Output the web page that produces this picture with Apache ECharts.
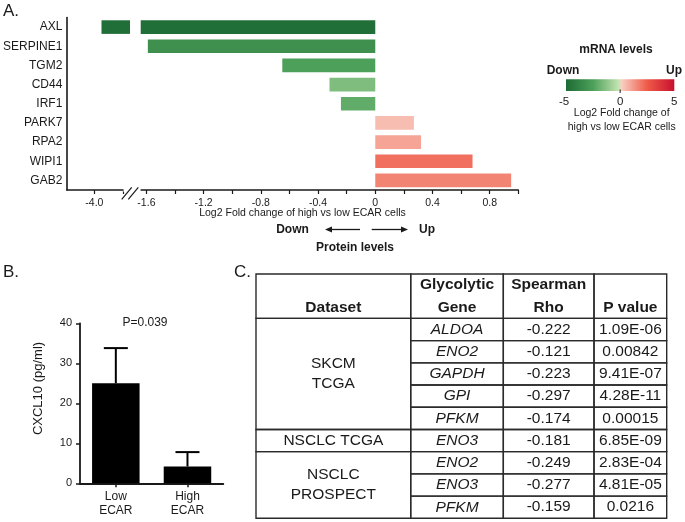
<!DOCTYPE html>
<html><head><meta charset="utf-8">
<script src="https://cdn.jsdelivr.net/npm/echarts@6/dist/echarts.min.js"></script>
<style>html,body{margin:0;padding:0;background:#fff}#c{width:685px;height:522px}</style>
</head><body><div id="c"></div>
<script>
// ---------- Panel A data ----------
const genes = ['AXL','SERPINE1','TGM2','CD44','IRF1','PARK7','RPA2','WIPI1','GAB2'];
const proteinLog2FC = [-3.95,-1.59,-0.65,-0.32,-0.24,0.27,0.32,0.68,0.95];
const mrnaLog2FC = [-4.8,-3.25,-2.5,-1.5,-2.1,0.48,1.0,2.07,1.65];
const xTicksBroken = [-4.0,-3.8];
const xLabelsBroken = [-4.0];
const xTicksMain = [-1.6,-1.4,-1.2,-1.0,-0.8,-0.6,-0.4,-0.2,0,0.2,0.4,0.6,0.8,1.0];
const xLabelsMain = [-1.6,-1.2,-0.8,-0.4,0,0.4,0.8];
const mrnaScaleTicks = [-5,0,5];
const mrnaRange = [-5,5];
// ---------- Panel B data ----------
const groups = ['Low\nECAR','High\nECAR'];
const cxcl10Mean = [25.0,4.2];
const cxcl10Err = [8.8,3.6];
// ---------- Panel C data ----------
const tableHeader = [['','Dataset'],['Glycolytic','Gene'],['Spearman','Rho'],['','P value']];
const datasets = ['SKCM\nTCGA','NSCLC TCGA','NSCLC\nPROSPECT'];
const datasetSpans = [5,1,3];
const glycoGenes = ['ALDOA','ENO2','GAPDH','GPI','PFKM','ENO3','ENO2','ENO3','PFKM'];
const spearmanRho = [-0.222,-0.121,-0.223,-0.297,-0.174,-0.181,-0.249,-0.277,-0.159];
const pValues = ['1.09E-06','0.00842','9.41E-07','4.28E-11','0.00015','6.85E-09','2.83E-04','4.81E-05','0.0216'];

// ---------- styling / layout ----------
const FONT = "'Liberation Sans', Arial, Helvetica, sans-serif";
const INK = '#1a1a1a';
const colorStops = [[0,'#1d6b35'],[0.25,'#4da05a'],[0.49,'#c6e5b2'],[0.51,'#f8d0c4'],[0.75,'#ef5a48'],[1,'#c8102e']];
function mrnaColor(v){
  const t = Math.max(0, Math.min(1, (v - mrnaRange[0]) / (mrnaRange[1] - mrnaRange[0])));
  for (let i = 1; i < colorStops.length; i++) {
    if (t <= colorStops[i][0]) {
      const a = colorStops[i-1], b = colorStops[i];
      return echarts.color.lerp((t - a[0]) / (b[0] - a[0]), [a[1], b[1]]);
    }
  }
  return colorStops[colorStops.length-1][1];
}
const fmtA = v => Math.abs(v) < 1e-9 ? '0' : v.toFixed(1);

const chart = echarts.init(document.getElementById('c'), null, {renderer:'canvas'});

// table cells
const colEdges = [0, 0.3767, 0.6022, 0.823, 1];
const cells = [];
tableHeader.forEach((h, c) => cells.push({col:c, row:0, span:2, lines:h, header:true}));
let rr = 0;
datasets.forEach((d, i) => { cells.push({col:0, row:2+rr, span:datasetSpans[i], text:d}); rr += datasetSpans[i]; });
glycoGenes.forEach((g, i) => cells.push({col:1, row:2+i, span:1, text:g, italic:true}));
spearmanRho.forEach((v, i) => cells.push({col:2, row:2+i, span:1, text:v.toFixed(3)}));
pValues.forEach((p, i) => cells.push({col:3, row:2+i, span:1, text:p}));

const axisLineA = {show:true, lineStyle:{color:INK, width:1.6}};
const tickA = {show:true, length:4, lineStyle:{color:INK, width:1.2}};
const labelA = {fontSize:10.5, color:INK, fontFamily:FONT, margin:8, formatter:fmtA};

// colorbar geometry
const cb = {x:566, y:79.3, w:108.3, h:11.7};
const cbX = v => cb.x + (v - mrnaRange[0]) / (mrnaRange[1] - mrnaRange[0]) * cb.w;

const graphics = [
  {type:'text', x:3, y:11, style:{text:'A.', font:'17px '+FONT, fill:INK, align:'left', verticalAlign:'middle'}},
  {type:'text', x:3, y:272, style:{text:'B.', font:'17px '+FONT, fill:INK, align:'left', verticalAlign:'middle'}},
  {type:'text', x:234, y:272, style:{text:'C.', font:'17px '+FONT, fill:INK, align:'left', verticalAlign:'middle'}},
  // axis break marks
  {type:'rect', z:100, shape:{x:123.5, y:187, width:17, height:5}, style:{fill:'#fff'}},
  {type:'line', z:101, shape:{x1:121.7, y1:199.3, x2:131.7, y2:187.3}, style:{stroke:INK, lineWidth:1.2}},
  {type:'line', z:101, shape:{x1:128.3, y1:199.3, x2:138.3, y2:187.3}, style:{stroke:INK, lineWidth:1.2}},
  // panel A axis title & protein arrows
  {type:'text', x:302.5, y:213.5, style:{text:'Log2 Fold change of high vs low ECAR cells', font:'10.5px '+FONT, fill:INK, align:'center', verticalAlign:'middle'}},
  {type:'text', x:292.5, y:230, style:{text:'Down', font:'bold 12px '+FONT, fill:INK, align:'center', verticalAlign:'middle'}},
  {type:'text', x:427, y:230, style:{text:'Up', font:'bold 12px '+FONT, fill:INK, align:'center', verticalAlign:'middle'}},
  {type:'line', shape:{x1:360, y1:229.5, x2:330, y2:229.5}, style:{stroke:INK, lineWidth:1.3}},
  {type:'polygon', shape:{points:[[325,229.5],[332,226.5],[332,232.5]]}, style:{fill:INK}},
  {type:'line', shape:{x1:371.7, y1:229.5, x2:403, y2:229.5}, style:{stroke:INK, lineWidth:1.3}},
  {type:'polygon', shape:{points:[[408,229.5],[401,226.5],[401,232.5]]}, style:{fill:INK}},
  {type:'text', x:355, y:247.5, style:{text:'Protein levels', font:'bold 12px '+FONT, fill:INK, align:'center', verticalAlign:'middle'}},
  // mRNA colour legend
  {type:'text', x:616, y:50, style:{text:'mRNA levels', font:'bold 12px '+FONT, fill:INK, align:'center', verticalAlign:'middle'}},
  {type:'text', x:563, y:70.7, style:{text:'Down', font:'bold 12px '+FONT, fill:INK, align:'center', verticalAlign:'middle'}},
  {type:'text', x:674, y:70.7, style:{text:'Up', font:'bold 12px '+FONT, fill:INK, align:'center', verticalAlign:'middle'}},
  {type:'rect', shape:{x:cb.x, y:cb.y, width:cb.w, height:cb.h},
    style:{fill:new echarts.graphic.LinearGradient(0,0,1,0, colorStops.map(s => ({offset:s[0], color:s[1]})))}},
  {type:'line', shape:{x1:cbX(0), y1:cb.y+cb.h-1.5, x2:cbX(0), y2:cb.y+cb.h+2}, style:{stroke:INK, lineWidth:1}},
  {type:'text', x:621.7, y:113.3, style:{text:'Log2 Fold change of', font:'10.5px '+FONT, fill:INK, align:'center', verticalAlign:'middle'}},
  {type:'text', x:621.7, y:126.7, style:{text:'high vs low ECAR cells', font:'10.5px '+FONT, fill:INK, align:'center', verticalAlign:'middle'}},
  // panel B texts
  {type:'text', x:145, y:323, style:{text:'P=0.039', font:'12px '+FONT, fill:INK, align:'center', verticalAlign:'middle'}},
  {type:'text', x:38, y:388.5, rotation:Math.PI/2, style:{text:'CXCL10 (pg/ml)', font:'13px '+FONT, fill:INK, align:'center', verticalAlign:'middle'}}
];
mrnaScaleTicks.forEach(v => graphics.push({type:'text', x:cbX(v) + (v < 0 ? -2 : 0), y:101.7,
  style:{text:String(v), font:'11.5px '+FONT, fill:INK, align:'center', verticalAlign:'middle'}}));

const option = {
  animation:false,
  backgroundColor:'#fff',
  textStyle:{fontFamily:FONT},
  grid:[
    {left:66.7, top:17.5, width:63.3, height:172.5},
    {left:140.7, top:17.5, width:377.6, height:172.5},
    {left:80, top:323.3, width:143.3, height:160},
    {left:256, top:274, width:410.7, height:244.3}
  ],
  xAxis:[
    {gridIndex:0, type:'value', min:-4.193, max:-3.75, axisLine:axisLineA,
      axisTick:Object.assign({customValues:xTicksBroken}, tickA),
      axisLabel:Object.assign({customValues:xLabelsBroken}, labelA), splitLine:{show:false}},
    {gridIndex:1, type:'value', min:-1.64, max:1.0, axisLine:axisLineA,
      axisTick:Object.assign({customValues:xTicksMain}, tickA),
      axisLabel:Object.assign({customValues:xLabelsMain}, labelA), splitLine:{show:false}},
    {gridIndex:2, type:'category', data:groups, axisLine:{show:true, lineStyle:{color:INK, width:1.8}},
      axisTick:{show:true, alignWithLabel:true, length:4, lineStyle:{color:INK, width:1.5}},
      axisLabel:{fontSize:12, color:INK, lineHeight:14.5, margin:6, fontFamily:FONT}},
    {gridIndex:3, type:'value', min:0, max:1, show:false}
  ],
  yAxis:[
    {gridIndex:0, type:'category', data:genes, inverse:true, axisLine:{show:true, lineStyle:{color:INK, width:1.6}},
      axisTick:{show:false}, axisLabel:{fontSize:12, color:INK, margin:4.5, fontFamily:FONT}},
    {gridIndex:1, type:'category', data:genes, inverse:true, show:false},
    {gridIndex:2, type:'value', min:0, max:40, interval:10, axisLine:{show:true, lineStyle:{color:INK, width:1.8}},
      axisTick:{show:true, length:4, lineStyle:{color:INK, width:1.5}}, splitLine:{show:false},
      axisLabel:{fontSize:11, color:INK, margin:8, fontFamily:FONT}},
    {gridIndex:3, type:'value', min:0, max:11, inverse:true, show:false}
  ],
  graphic:graphics,
  series:[
    {type:'bar', xAxisIndex:0, yAxisIndex:0, data:proteinLog2FC, barWidth:13.6, clip:true,
      itemStyle:{color:p => mrnaColor(mrnaLog2FC[p.dataIndex])}},
    {type:'bar', xAxisIndex:1, yAxisIndex:1, data:proteinLog2FC, barWidth:13.6, clip:true,
      itemStyle:{color:p => mrnaColor(mrnaLog2FC[p.dataIndex])}},
    {type:'bar', xAxisIndex:2, yAxisIndex:2, data:cxcl10Mean, barWidth:47.5, itemStyle:{color:'#000'}},
    {type:'custom', xAxisIndex:2, yAxisIndex:2, z:3,
      data:cxcl10Mean.map((m, i) => [i, m, m + cxcl10Err[i]]), encode:{x:0, y:[1,2]},
      renderItem:function(params, api){
        const b = api.coord([api.value(0), api.value(1)]);
        const t = api.coord([api.value(0), api.value(2)]);
        const hw = 12;
        return {type:'group', children:[
          {type:'line', shape:{x1:b[0], y1:b[1], x2:t[0], y2:t[1]}, style:{stroke:'#000', lineWidth:2}},
          {type:'line', shape:{x1:t[0]-hw, y1:t[1], x2:t[0]+hw, y2:t[1]}, style:{stroke:'#000', lineWidth:2}}
        ]};
      }},
    {type:'custom', xAxisIndex:3, yAxisIndex:3,
      data:cells.map(c => [c.col, c.row]), encode:{x:0, y:1},
      renderItem:function(params, api){
        const c = cells[params.dataIndex];
        const p0 = api.coord([colEdges[c.col], c.row]);
        const p1 = api.coord([colEdges[c.col+1], c.row + c.span]);
        const x = Math.min(p0[0], p1[0]), y = Math.min(p0[1], p1[1]);
        const w = Math.abs(p1[0]-p0[0]), h = Math.abs(p1[1]-p0[1]);
        const children = [{type:'rect', shape:{x:x, y:y, width:w, height:h},
          style:{fill:'none', stroke:'#2a2a2a', lineWidth:1.4}}];
        if (c.header) {
          c.lines.forEach((ln, k) => {
            if (!ln) return;
            children.push({type:'text', x:x+w/2, y:y+h*(k+0.5)/c.lines.length,
              style:{text:ln, font:'bold 15.5px '+FONT, fill:INK, align:'center', verticalAlign:'middle'}});
          });
        } else {
          children.push({type:'text', x:x+w/2, y:y+h/2,
            style:{text:c.text, font:(c.italic ? 'italic ' : '') + '15.5px '+FONT, fill:INK,
              align:'center', verticalAlign:'middle', lineHeight:20}});
        }
        return {type:'group', children:children};
      }}
  ]
};
chart.setOption(option);
</script>
</body></html>
